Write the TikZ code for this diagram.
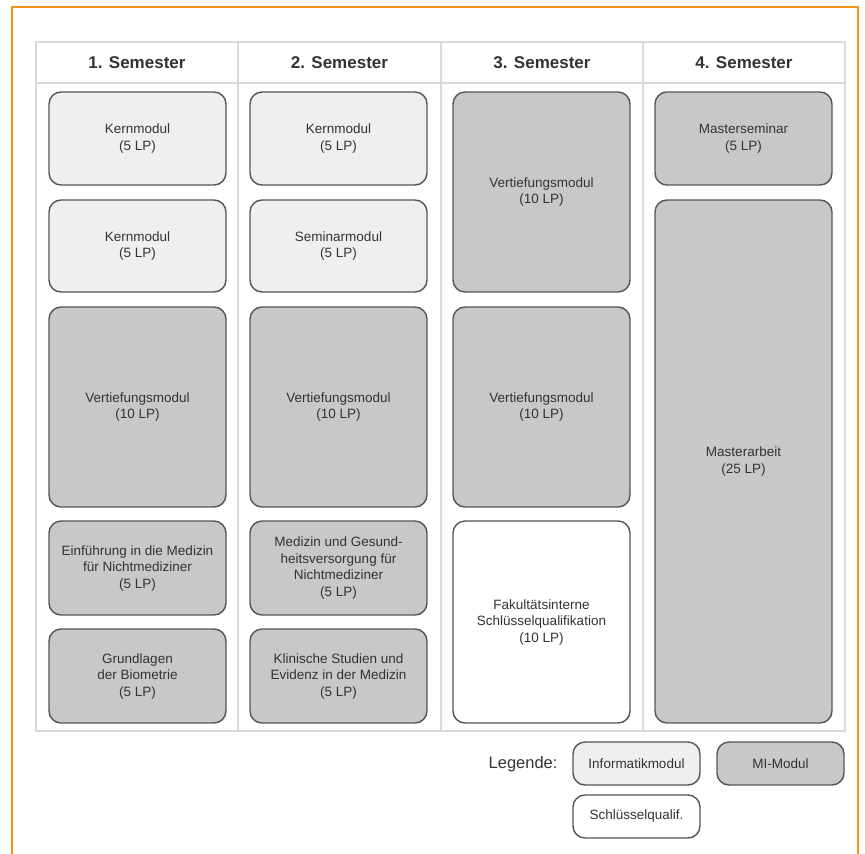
\documentclass[tikz,border=0pt]{standalone}
\usepackage{fontspec}
\setmainfont{Liberation Sans}
\usepackage{tikz}
\usetikzlibrary{positioning}

\definecolor{framecol}{HTML}{F7941D}
\definecolor{gridcol}{HTML}{DADADA}
\definecolor{infofill}{HTML}{EFEFEF}
\definecolor{mifill}{HTML}{C8C8C8}
\definecolor{edgecol}{HTML}{555555}
\definecolor{textcol}{HTML}{333333}

\begin{document}
\begin{tikzpicture}[
  x=1pt, y=-1pt,
  box/.style={draw=edgecol, line width=1.4pt, rounded corners=12pt, minimum width=177pt, align=center, text=textcol, font=\fontsize{13.5}{16.5}\selectfont},
  info/.style={box, fill=infofill},
  mimod/.style={box, fill=mifill},
  skill/.style={box, fill=white},
  head/.style={text=textcol, font=\fontsize{17}{20}\selectfont\bfseries},
  legbox/.style={minimum width=127pt, minimum height=43pt}
]
  \useasboundingbox (0,0) rectangle (865,854);
  \draw[framecol, line width=2.5pt] (12,870) -- (12,7) -- (858,7) -- (858,870);

  % table
  \draw[gridcol, line width=2pt] (36,42) rectangle (845,731);
  \draw[gridcol, line width=2pt] (36,83) -- (845,83);
  \foreach \x in {238,441,643}
    \draw[gridcol, line width=2pt] (\x,42) -- (\x,731);

  \node[head] (sem1) at (137,62.5) {1. Semester};
  \node[head] (sem2) at (339.5,62.5) {2. Semester};
  \node[head] (sem3) at (542,62.5) {3. Semester};
  \node[head] (sem4) at (744,62.5) {4. Semester};

  % 1. Semester
  \node[info, minimum height=93pt] (kern1) at (137.5,138.5) {Kernmodul\\(5 LP)};
  \node[info, minimum height=92pt] (kern2) at (137.5,246) {Kernmodul\\(5 LP)};
  \node[mimod, minimum height=200pt] (vert1) at (137.5,407) {Vertiefungsmodul\\(10 LP)};
  \node[mimod, minimum height=94pt] (einf) at (137.5,568) {Einführung in die Medizin\\für Nichtmediziner\\(5 LP)};
  \node[mimod, minimum height=94pt] (biom) at (137.5,676) {Grundlagen\\der Biometrie\\(5 LP)};

  % 2. Semester
  \node[info, minimum height=93pt] (kern3) at (338.5,138.5) {Kernmodul\\(5 LP)};
  \node[info, minimum height=92pt] (semmod) at (338.5,246) {Seminarmodul\\(5 LP)};
  \node[mimod, minimum height=200pt] (vert2) at (338.5,407) {Vertiefungsmodul\\(10 LP)};
  \node[mimod, minimum height=94pt] (gesund) at (338.5,568) {Medizin und Gesund-\\heitsversorgung für\\Nichtmediziner\\(5 LP)};
  \node[mimod, minimum height=94pt] (klinik) at (338.5,676) {Klinische Studien und\\Evidenz in der Medizin\\(5 LP)};

  % 3. Semester
  \node[mimod, minimum height=200pt] (vert3) at (541.5,192) {Vertiefungsmodul\\(10 LP)};
  \node[mimod, minimum height=200pt] (vert4) at (541.5,407) {Vertiefungsmodul\\(10 LP)};
  \node[skill, minimum height=202pt] (schluessel) at (541.5,622) {Fakultätsinterne\\Schlüsselqualifikation\\(10 LP)};

  % 4. Semester
  \node[mimod, minimum height=93pt] (mseminar) at (743.5,138.5) {Masterseminar\\(5 LP)};
  \node[mimod, minimum height=523pt] (marbeit) at (743.5,461.5) {Masterarbeit\\(25 LP)};

  % Legende
  \node[text=textcol, font=\fontsize{16.5}{20}\selectfont, anchor=east] (legende) at (561,764) {Legende:};
  \node[info, legbox] (leginfo) at (636.5,763.5) {Informatikmodul};
  \node[mimod, legbox] (legmi) at (780.5,763.5) {MI-Modul};
  \node[skill, legbox] (legsq) at (636.5,816.5) {Schlüsselqualif.};
\end{tikzpicture}
\end{document}
